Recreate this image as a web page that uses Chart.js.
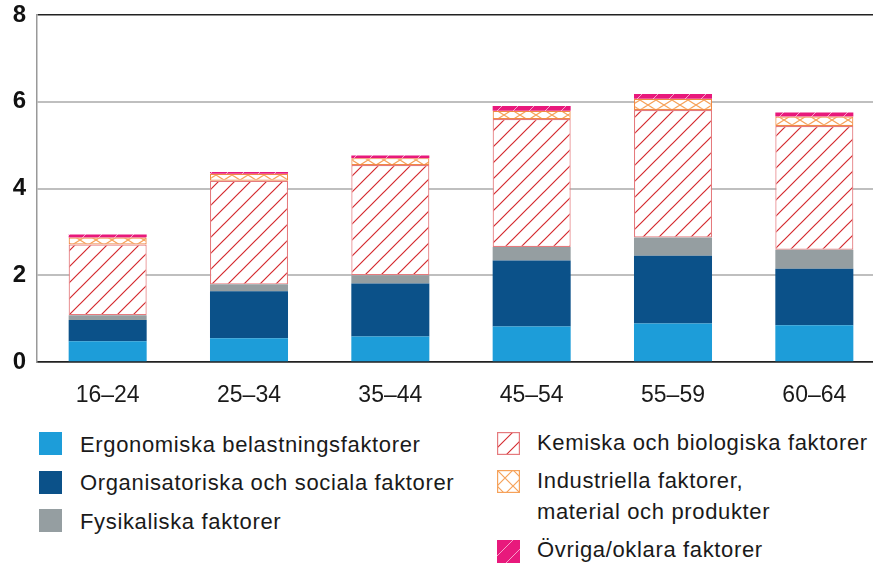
<!DOCTYPE html>
<html>
<head>
<meta charset="utf-8">
<script src="https://cdn.jsdelivr.net/npm/chart.js@4"></script>
<style>
  html, body { margin: 0; padding: 0; background: #fff; overflow: hidden; }
  #wrap { position: absolute; left: 0; top: 0; width: 886px; height: 412px; }
  .lg { position: absolute; font-family: "Liberation Sans", Arial, sans-serif; font-size: 22px;
        line-height: 24px; color: #1a1a1a; letter-spacing: 0.65px; white-space: nowrap; }
  .sw { position: absolute; width: 23px; height: 23px; }
</style>
</head>
<body>
<div id="wrap"><canvas id="chart"></canvas></div>

<canvas class="sw" id="sw0" width="23" height="23" style="left:39px;top:432px"></canvas>
<div class="lg" style="left:80px;top:433px">Ergonomiska belastningsfaktorer</div>
<canvas class="sw" id="sw1" width="23" height="23" style="left:39px;top:471px"></canvas>
<div class="lg" style="left:80px;top:471px">Organisatoriska och sociala faktorer</div>
<canvas class="sw" id="sw2" width="23" height="23" style="left:39px;top:509px"></canvas>
<div class="lg" style="left:80px;top:510px">Fysikaliska faktorer</div>

<canvas class="sw" id="sw3" width="23" height="23" style="left:497px;top:432px"></canvas>
<div class="lg" style="left:537px;top:431px">Kemiska och biologiska faktorer</div>
<canvas class="sw" id="sw4" width="23" height="23" style="left:497px;top:470px"></canvas>
<div class="lg" style="left:537px;top:469px">Industriella faktorer,<br><span style="position:relative;top:7px">material och produkter</span></div>
<canvas class="sw" id="sw5" width="23" height="23" style="left:497px;top:540px"></canvas>
<div class="lg" style="left:537px;top:538px">Övriga/oklara faktorer</div>

<script>
// age groups
const ageGroups = ["16–24", "25–34", "35–44", "45–54", "55–59", "60–64"];

// values per factor group
const ergonomiska     = [0.48, 0.55, 0.59, 0.82, 0.89, 0.85];
const organisatoriska = [0.49, 1.08, 1.22, 1.52, 1.56, 1.30];
const fysikaliska     = [0.11, 0.16, 0.19, 0.31, 0.42, 0.44];
const kemiska         = [1.63, 2.39, 2.54, 2.95, 2.94, 2.85];
const industriella    = [0.16, 0.16, 0.16, 0.19, 0.26, 0.22];
const ovriga          = [0.07, 0.04, 0.06, 0.11, 0.11, 0.09];

const yTicks = [0, 2, 4, 6, 8];

// pattern helpers
function makeTile(w, h, draw) {
    const c = document.createElement("canvas");
    c.width = w; c.height = h;
    draw(c.getContext("2d"), w, h);
    return c;
}

function diagTile(bg, line, lw) {
    return makeTile(16, 16, function(g, w, h) {
        g.fillStyle = bg;
        g.fillRect(0, 0, w, h);
        g.strokeStyle = line;
        g.lineWidth = lw;
        g.beginPath();
        g.moveTo(0, h); g.lineTo(w, 0);
        g.moveTo(-2, 2); g.lineTo(2, -2);
        g.moveTo(w - 2, h + 2); g.lineTo(w + 2, h - 2);
        g.stroke();
    });
}

function crossTile(bg, line, h) {
    return makeTile(16, h, function(g, w, h) {
        g.fillStyle = bg;
        g.fillRect(0, 0, w, h);
        g.strokeStyle = line;
        g.lineWidth = 1.2;
        g.beginPath();
        g.moveTo(0, 0); g.lineTo(w, h);
        g.moveTo(0, h); g.lineTo(w, 0);
        g.stroke();
    });
}

const ctx = document.getElementById("chart").getContext("2d");
const kemPattern = ctx.createPattern(diagTile("#ffffff", "#d42a2f", 1.2), "repeat");
const indPattern = ctx.createPattern(crossTile("#ffffff", "#f6a25a", 10), "repeat");
const ovrPattern = ctx.createPattern(diagTile("#e8197c", "rgba(255,255,255,0.75)", 0.8), "repeat");

const data = {
    labels: ageGroups,
    datasets: [
        { label: "Ergonomiska belastningsfaktorer", data: ergonomiska, backgroundColor: "#1d9dd9", borderWidth: 0 },
        { label: "Organisatoriska och sociala faktorer", data: organisatoriska, backgroundColor: "#0b5189", borderWidth: 0 },
        { label: "Fysikaliska faktorer", data: fysikaliska, backgroundColor: "#959ea1", borderWidth: 0 },
        { label: "Kemiska och biologiska faktorer", data: kemiska, backgroundColor: kemPattern,
          borderColor: "#e57a7d", borderWidth: 1.2, borderSkipped: false },
        { label: "Industriella faktorer, material och produkter", data: industriella, backgroundColor: indPattern,
          borderColor: "#f08a45", borderWidth: 1.2, borderSkipped: false },
        { label: "Övriga/oklara faktorer", data: ovriga, backgroundColor: ovrPattern, borderWidth: 0 }
    ]
};

const config = {
    type: "bar",
    data,
    options: {
        responsive: true,
        maintainAspectRatio: false,
        animation: false,
        categoryPercentage: 1,
        barPercentage: 0.552,
        layout: { padding: { top: 15, right: 1, left: 0, bottom: 0 } },
        plugins: {
            legend: { display: false },
            tooltip: { enabled: false }
        },
        scales: {
            x: {
                stacked: true,
                grid: { display: false },
                border: { color: "#222", width: 1.5 },
                ticks: {
                    color: "#1a1a1a",
                    font: { family: "Liberation Sans", size: 23 },
                    padding: 12,
                    maxRotation: 0
                },
                afterFit: function(scale) { scale.height = 412 - 362; }
            },
            y: {
                stacked: true,
                min: 0,
                max: 8,
                afterBuildTicks: function(scale) {
                    scale.ticks = yTicks.map(function(v) { return { value: v }; });
                },
                grid: {
                    drawTicks: false,
                    color: function(c) { return (c.tick && (c.tick.value === 0 || c.tick.value === 8)) ? "#222" : "#bfbfbf"; },
                    lineWidth: function(c) { return (c.tick && (c.tick.value === 0 || c.tick.value === 8)) ? 1.5 : 2; }
                },
                border: { color: "#999", width: 1.5 },
                ticks: {
                    color: "#111",
                    font: { family: "Liberation Sans", size: 24, weight: "bold" },
                    padding: 11
                },
                afterFit: function(scale) {
                    scale.width = 37;
                    scale.paddingTop = 0;
                    scale.paddingBottom = 0;
                }
            }
        }
    }
};

const myChart = new Chart(document.getElementById("chart"), config);

// legend swatches
function swatch(id, fill, border) {
    const g = document.getElementById(id).getContext("2d");
    g.fillStyle = fill;
    g.fillRect(0, 0, 23, 23);
    if (border) {
        g.strokeStyle = border;
        g.lineWidth = 1.2;
        g.strokeRect(0.6, 0.6, 21.8, 21.8);
    }
}
swatch("sw0", "#1d9dd9");
swatch("sw1", "#0b5189");
swatch("sw2", "#959ea1");
const s3 = document.getElementById("sw3").getContext("2d");
swatch("sw3", s3.createPattern(diagTile("#ffffff", "#d42a2f", 1.1), "repeat"), "#e57a7d");
const s4 = document.getElementById("sw4").getContext("2d");
swatch("sw4", s4.createPattern(crossTile("#ffffff", "#f6a25a", 16), "repeat"), "#f6a25a");
const s5 = document.getElementById("sw5").getContext("2d");
swatch("sw5", s5.createPattern(diagTile("#e8197c", "rgba(255,255,255,0.75)", 0.8), "repeat"));
</script>
</body>
</html>
